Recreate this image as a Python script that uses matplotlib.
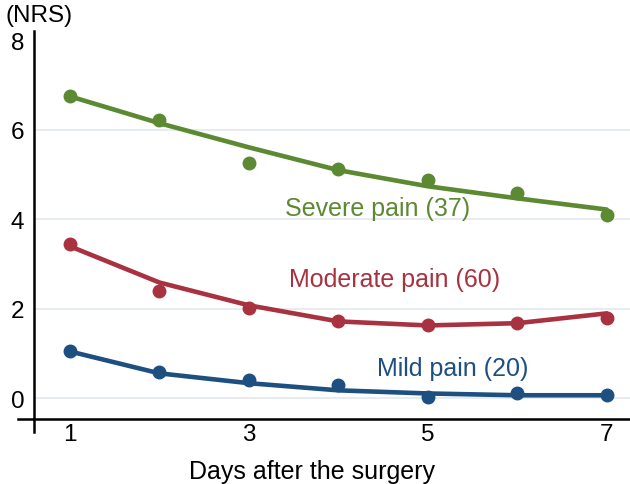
import numpy as np
import matplotlib
matplotlib.use("Agg")
import matplotlib.pyplot as plt

plt.rcParams['font.family'] = ['Liberation Sans', 'DejaVu Sans']

days = [1, 2, 3, 4, 5, 6, 7]

# observed mean NRS per day
severe_obs = [6.75, 6.21, 5.25, 5.12, 4.89, 4.60, 4.09]
moderate_obs = [3.46, 2.41, 2.03, 1.72, 1.63, 1.68, 1.79]
mild_obs = [1.07, 0.58, 0.40, 0.31, 0.04, 0.11, 0.07]

# fitted trajectory per day
severe_fit = [6.75, 6.15, 5.61, 5.10, 4.74, 4.47, 4.22]
moderate_fit = [3.40, 2.59, 2.08, 1.72, 1.63, 1.68, 1.90]
mild_fit = [1.05, 0.56, 0.34, 0.18, 0.11, 0.07, 0.07]

labels = ["Severe pain (37)", "Moderate pain (60)", "Mild pain (20)"]
colors = ["#5b8a32", "#a83240", "#1d4f80"]
label_pos = [(4.44, 4.25), (4.63, 2.66), (5.28, 0.69)]

fig = plt.figure(figsize=(6.3, 4.85), dpi=100)
ax = fig.add_axes([0.054, 0.135, 0.946, 0.80])

for g in [0, 2, 4, 6]:
    ax.axhline(g, color="#e4eaee", lw=1.3, zorder=0)

for obs, fit, c, lab, pos in zip([severe_obs, moderate_obs, mild_obs],
                                 [severe_fit, moderate_fit, mild_fit],
                                 colors, labels, label_pos):
    ax.plot(days, fit, color=c, lw=3.3, solid_capstyle="round", zorder=2)
    ax.plot(days, obs, "o", color=c, ms=9, zorder=3)
    ax.text(pos[0], pos[1], lab, color=c, fontsize=18, ha="center", va="center")

ax.set_xlim(0.6, 7.26)
ax.set_ylim(-0.45, 8.22)
ax.set_xticks([1, 3, 5, 7])
ax.set_yticks([0, 2, 4, 6, 8])
ax.tick_params(length=0, labelsize=17.5)
ax.tick_params(axis='y', pad=7)
ax.tick_params(axis='x', pad=3)
ax.spines['top'].set_visible(False)
ax.spines['right'].set_visible(False)
ax.spines['left'].set_linewidth(1.8)
ax.spines['bottom'].set_linewidth(1.8)
# axis stubs crossing at the origin corner
ax.plot([0, 0], [0, -0.035], transform=ax.transAxes, color="black", lw=1.8, clip_on=False)
ax.plot([-0.027, 0], [0, 0], transform=ax.transAxes, color="black", lw=1.8, clip_on=False)

fig.text(0.495, 0.027, "Days after the surgery", fontsize=18, ha="center", va="center")
fig.text(0.008, 0.968, "(NRS)", fontsize=17.5, ha="left", va="center")

fig.savefig("out.png", dpi=100)
